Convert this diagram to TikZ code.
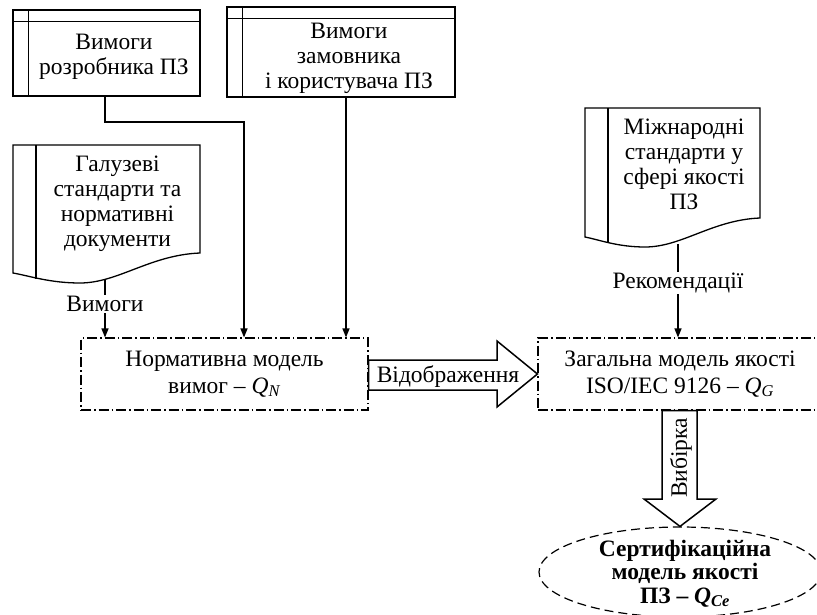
\documentclass[tikz,border=0pt]{standalone}
\usepackage{fontspec}
\setmainfont{Liberation Serif}
\usetikzlibrary{arrows.meta,shapes.geometric}
\tikzset{
  ln/.style={line width=1.3pt},
  boxst/.style={draw, line width=1.3pt, rectangle, inner sep=0pt},
  ddbox/.style={draw, line width=1.1pt, dash pattern=on 10pt off 3pt on 1.5pt off 3pt, inner sep=0pt, align=center, font=\fontsize{23.5}{26.5}\selectfont},
  txt/.style={align=center, font=\fontsize{23.5}{25}\selectfont, inner sep=0pt},
  arr/.style={line width=1.3pt, -{Triangle[length=9pt,width=7pt]}},
  bigarr/.style={draw, line width=1.5pt, fill=white, line join=miter},
}
\begin{document}
\begin{tikzpicture}[x=1pt,y=-1pt]
\useasboundingbox (0,0) rectangle (817,615);
\clip (0,0) rectangle (817,615);

% top boxes
\node[boxst, minimum width=187pt, minimum height=86pt] (b1) at (106.5,53) {};
\draw[ln] ([yshift=-12pt]b1.north west) -- ([yshift=-12pt]b1.north east);
\draw[ln] ([xshift=16pt]b1.north west) -- ([xshift=16pt]b1.south west);
\node[txt] (t1) at (114,57) {Вимоги\\розробника ПЗ};

\node[boxst, minimum width=228pt, minimum height=90pt] (b2) at (341,52) {};
\draw[ln] ([yshift=-12pt]b2.north west) -- ([yshift=-12pt]b2.north east);
\draw[ln] ([xshift=16pt]b2.north west) -- ([xshift=16pt]b2.south west);
\node[txt] (t2) at (349,58) {Вимоги\\замовника\\і користувача ПЗ};

% documents
\draw[ln] (13,145) -- (200,145) -- (200,253) .. controls (150,255) and (118,283) .. (80,283) .. controls (50,283) and (30,276) .. (13,273) -- cycle;
\draw[ln] (36,145) -- (36,279);
\node[txt] (gt) at (117.5,203.5) {Галузеві\\стандарти та\\нормативні\\документи};
\coordinate (gb) at (105,280);

\draw[ln] (585,108) -- (760,108) -- (760,218) .. controls (712,220) and (682,247) .. (645,247) .. controls (618,247) and (600,240) .. (585,237) -- cycle;
\draw[ln] (608,108) -- (608,242);
\node[txt] (mt) at (684,164) {Міжнародні\\стандарти у\\сфері якості\\ПЗ};
\coordinate (mb) at (678,244);

% model boxes
\node[ddbox, minimum width=287pt, minimum height=72pt] (nb) at (224.5,374) {Нормативна модель\\вимог – \textit{Q}\textsubscript{\textit{N}}};
\node[ddbox, minimum width=284pt, minimum height=72pt] (gm) at (680,374) {Загальна модель якості\\ISO/IEC 9126 – \textit{Q}\textsubscript{\textit{G}}};

% ellipse
\node[draw, ellipse, line width=1.2pt, dash pattern=on 9pt off 5pt, minimum width=282pt, minimum height=90pt, inner sep=0pt] (el) at (680,572) {};
\node[txt, font=\fontsize{23.5}{23.5}\selectfont\bfseries] (et) at (685,573.5) {Сертифікаційна\\модель якості\\ПЗ – \textit{Q}\textsubscript{\textit{Ce}}};

% connectors
\coordinate (k1) at (105,122);
\draw[arr] (b1.south -| k1) -- (k1) -| (nb.north -| 244,0);
\draw[arr] (b2.south -| 346,0) -- (nb.north -| 346,0);
\draw[arr] (gb) -- node[pos=0.42, txt, fill=white, inner sep=1pt] (lv) {Вимоги} (nb.north -| gb);
\draw[arr] (mb) -- node[pos=0.42, txt, fill=white, inner sep=1pt] (lr) {Рекомендації} (gm.north -| mb);

% big arrows
\draw[bigarr] (nb.east |- 0,360) -- (497,360) -- (497,341) -- (gm.west) -- (497,407) -- (497,390) -- (nb.east |- 0,390) -- cycle;
\node[txt] (lo) at (448,377) {Відображення};

\draw[bigarr] (gm.south -| 662,0) -- (662,499) -- (644,499) -- (el.north) -- (716,499) -- (697,499) -- (gm.south -| 697,0) -- cycle;
\node[txt, rotate=90] (lb) at (681,458) {Вибірка};
\end{tikzpicture}
\end{document}
